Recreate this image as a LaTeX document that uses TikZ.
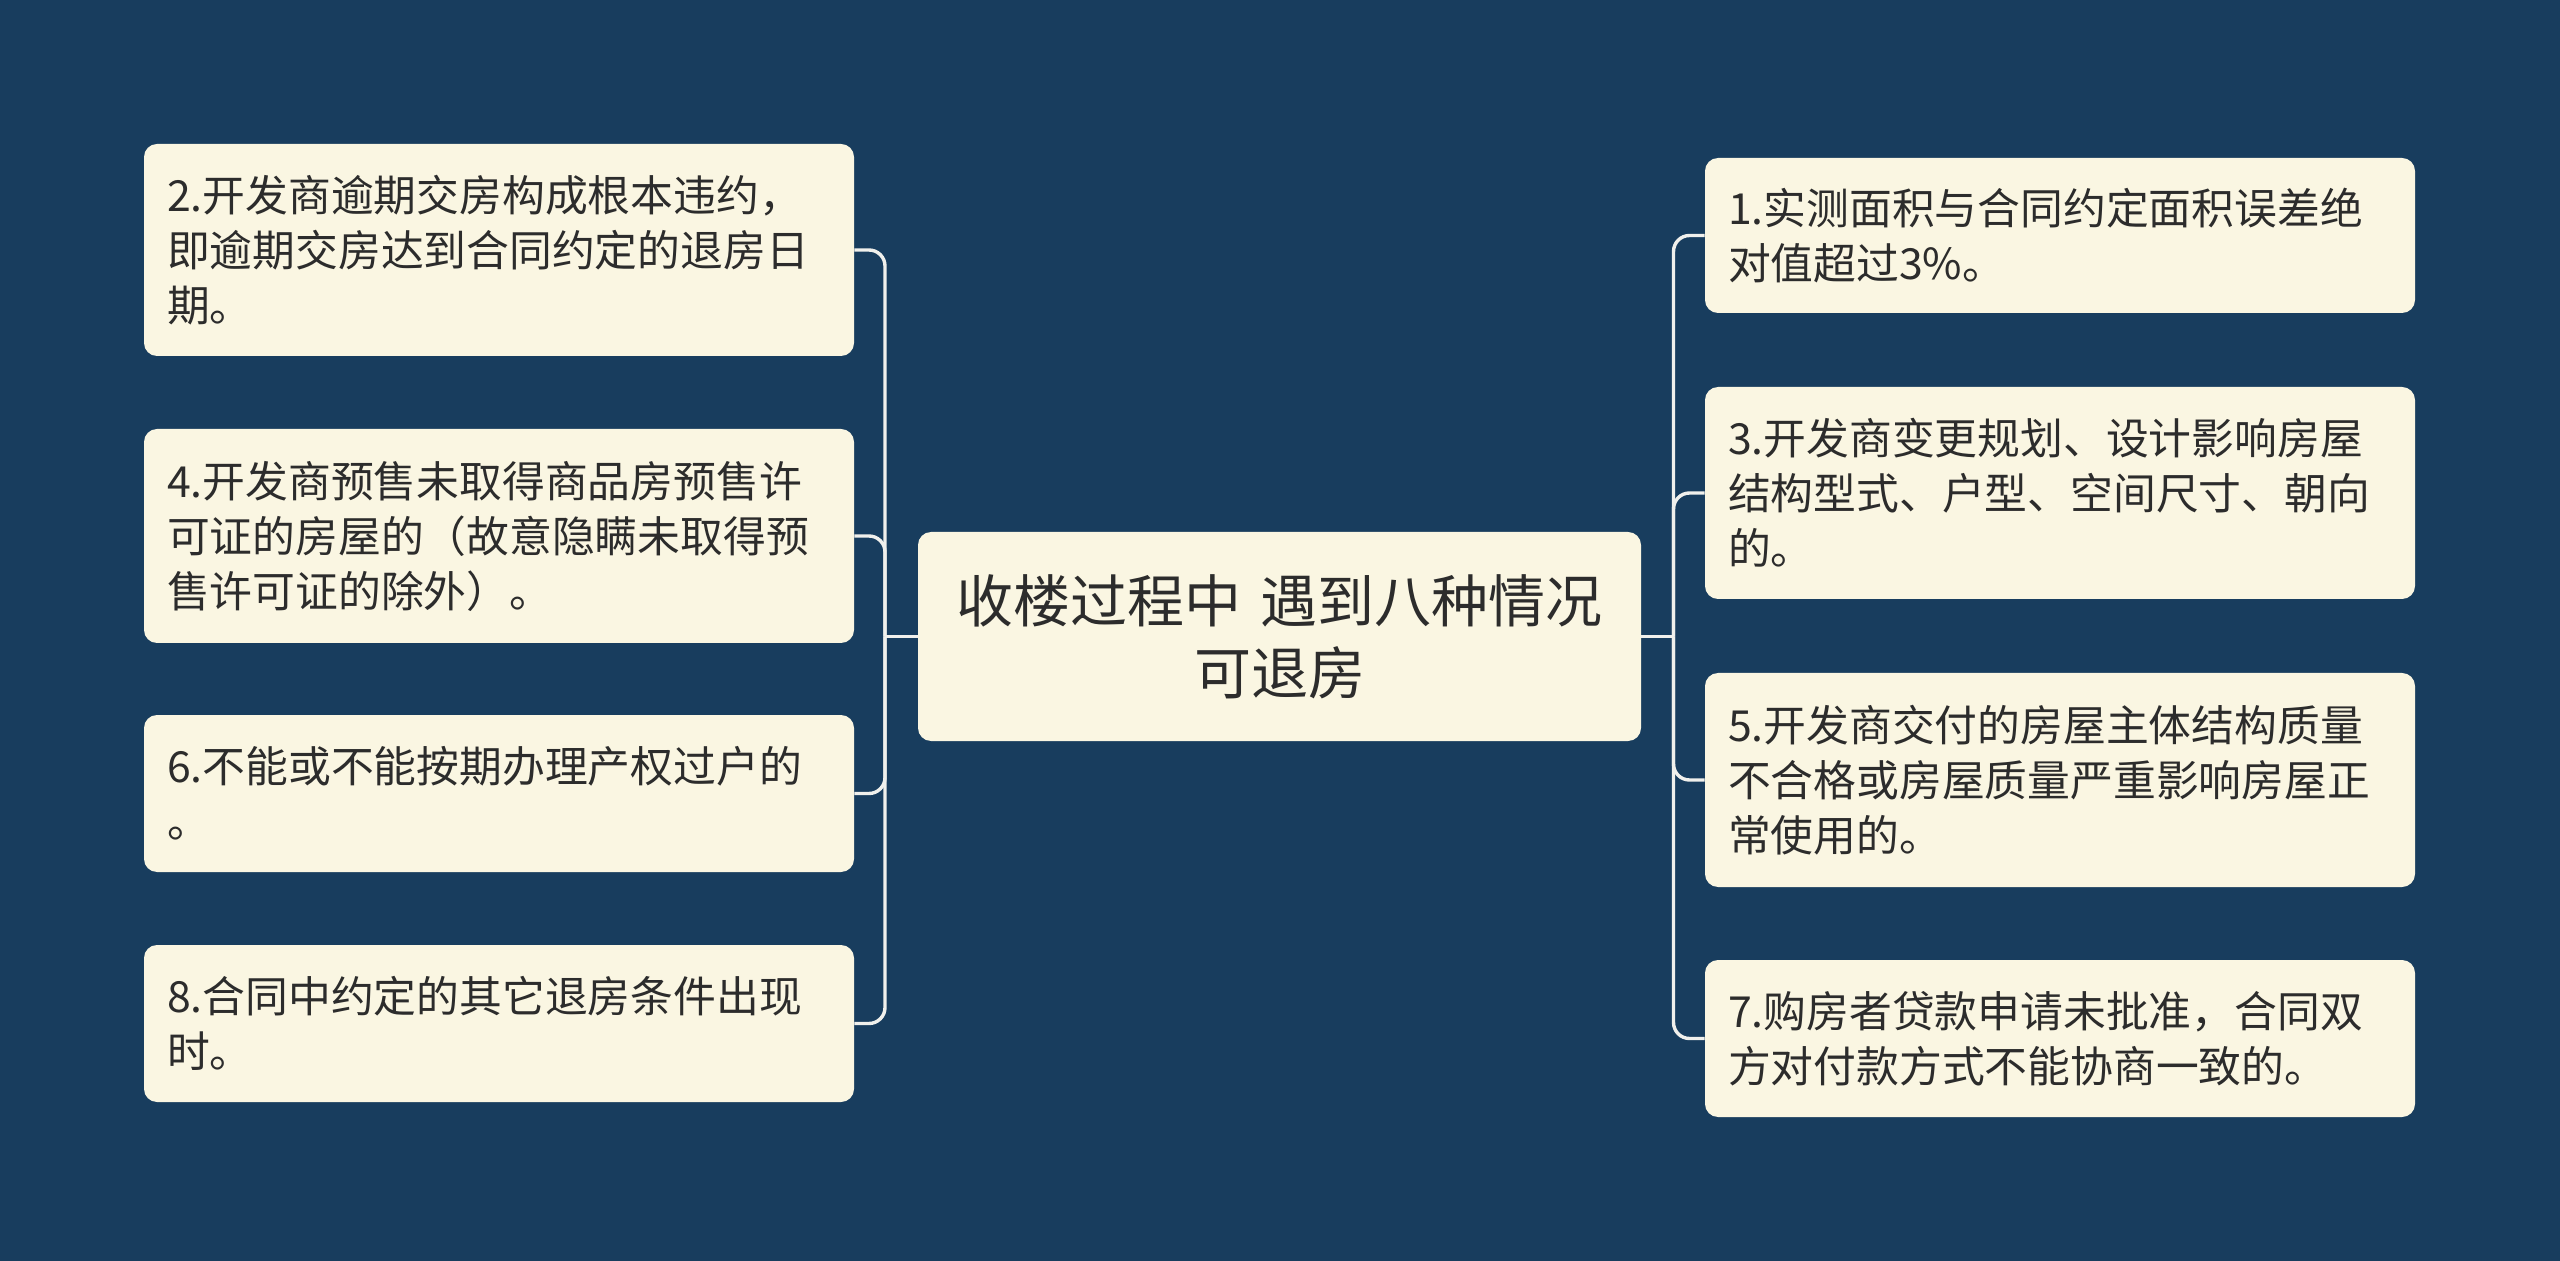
\documentclass[tikz,border=0pt]{standalone}
\usepackage{fontspec}
\setmainfont{Noto Sans CJK SC}
\usepackage{xcolor}
\usepackage{tikz}

\definecolor{bgblue}{RGB}{24,61,94}
\definecolor{cream}{RGB}{250,246,226}
\definecolor{inkgray}{RGB}{44,44,44}
\definecolor{linkwhite}{RGB}{240,240,236}

\tikzset{
  leaf/.style={fill=cream, rounded corners=6.5pt, text=inkgray, align=left,
    text width=332pt, inner xsep=11.5pt, inner ysep=0pt,
    font=\fontsize{21.4}{27.5}\selectfont},
  rootbox/.style={fill=cream, rounded corners=6.5pt, text=inkgray, align=center,
    text width=340pt, inner xsep=10.75pt, inner ysep=0pt, minimum height=104.5pt,
    font=\fontsize{28.5}{36}\selectfont},
  link/.style={draw=linkwhite, line width=1.7pt, rounded corners=8pt}
}

\begin{document}
\begin{tikzpicture}[x=0.5pt,y=0.5pt,yscale=-1,xscale=1]
%background
\fill[bgblue] (0,0) rectangle (2560,1261);
\useasboundingbox (0,0) rectangle (2560,1261);

%Root Node
\node[rootbox] (root) at (1279.5,636.5) {收楼过程中 遇到八种情况\\可退房};

%Left Nodes
\node[leaf, minimum height=106pt] (n2) at (499,250) {2.开发商逾期交房构成根本违约，\\即逾期交房达到合同约定的退房日\\期。};
\node[leaf, minimum height=107pt] (n4) at (499,536) {4.开发商预售未取得商品房预售许\\可证的房屋的（故意隐瞒未取得预\\售许可证的除外）。};
\node[leaf, minimum height=78.5pt] (n6) at (499,793.5) {6.不能或不能按期办理产权过户的\\。};
\node[leaf, minimum height=78.5pt] (n8) at (499,1023.5) {8.合同中约定的其它退房条件出现\\时。};

%Right Nodes
\node[leaf, minimum height=77.5pt] (n1) at (2060,235.5) {1.实测面积与合同约定面积误差绝\\对值超过3\%。};
\node[leaf, minimum height=106pt] (n3) at (2060,493) {3.开发商变更规划、设计影响房屋\\结构型式、户型、空间尺寸、朝向\\的。};
\node[leaf, minimum height=107pt] (n5) at (2060,780) {5.开发商交付的房屋主体结构质量\\不合格或房屋质量严重影响房屋正\\常使用的。};
\node[leaf, minimum height=78.5pt] (n7) at (2060,1038.5) {7.购房者贷款申请未批准，合同双\\方对付款方式不能协商一致的。};

%Junctions
\coordinate (lj) at (885,636.5);
\coordinate (rj) at (1673.5,636.5);

%Connectors
\draw[link] (root.west) -- (lj);
\draw[link] (root.east) -- (rj);
\foreach \n in {n2,n4,n6,n8}
  \draw[link] (lj) |- (\n.east);
\foreach \n in {n1,n3,n5,n7}
  \draw[link] (rj) |- (\n.west);

\end{tikzpicture}
\end{document}
